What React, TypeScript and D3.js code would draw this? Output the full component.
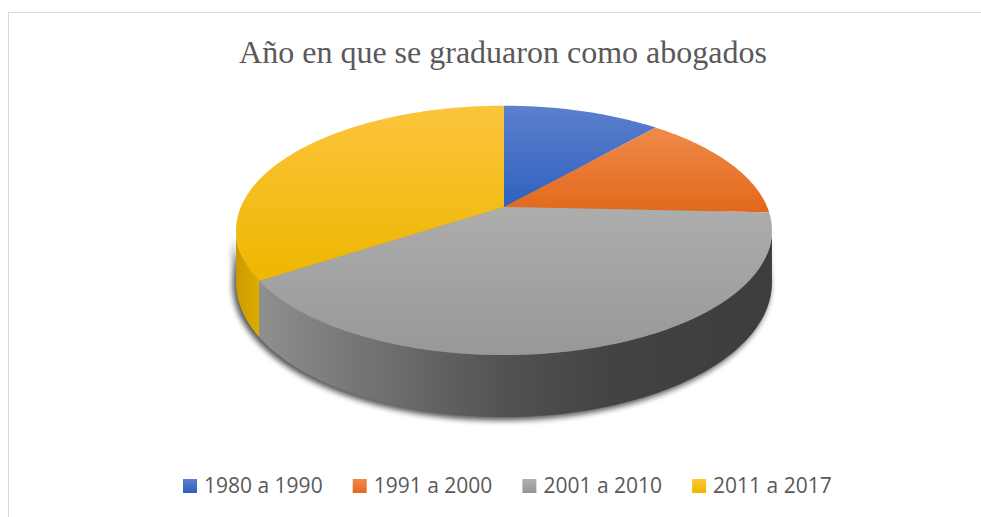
import React from "react";
import * as d3 from "d3";

const categories = ["1980 a 1990", "1991 a 2000", "2001 a 2010", "2011 a 2017"];
const values = [4, 5, 14, 12];
const topColors = [
  ["#5b80cd", "#3061bf"],
  ["#ef8a4c", "#e3681a"],
  ["#adadad", "#989898"],
  ["#fcc43c", "#eeb700"],
];
const legendColors = [
  ["#5a7fcc", "#2f5fbf"],
  ["#f0894a", "#e36a1b"],
  ["#b0b0b0", "#959595"],
  ["#ffc833", "#efb500"],
];
const title = "Año en que se graduaron como abogados";

const W = 981;
const H = 517;
const CX = 504;
const CY = 207;
const C = 0.1873;
const A = 263.2;
const B = 120.3;
const DEPTH = 50.4;

function proj(theta: number, h: number): [number, number] {
  const u = Math.sin(theta);
  const v = -Math.cos(theta);
  const w = 1 - C * v;
  return [CX + (A * u) / w, CY + (B * v + DEPTH * h) / w];
}

function rim(a0: number, a1: number, h: number): [number, number][] {
  const n = Math.max(2, Math.ceil(((a1 - a0) * 180) / Math.PI));
  const pts: [number, number][] = [];
  for (let i = 0; i <= n; i++) pts.push(proj(a0 + ((a1 - a0) * i) / n, h));
  return pts;
}

const line = d3.line<[number, number]>();

export default function App() {
  const pie = d3.pie<number>().sort(null).startAngle(0).endAngle(2 * Math.PI);
  const arcs = pie(values);
  const visStart = Math.PI / 2 + Math.asin(C);
  const visEnd = (3 * Math.PI) / 2 - Math.asin(C);

  const topPaths = arcs.map((a) => {
    const pts: [number, number][] = [[CX, CY], ...rim(a.startAngle, a.endAngle, 0)];
    return line(pts) + "Z";
  });

  const sidePaths = arcs.map((a) => {
    const s = Math.max(a.startAngle, visStart);
    const e = Math.min(a.endAngle, visEnd);
    if (e <= s) return null;
    const pts = [...rim(s, e, 0), ...rim(s, e, 1).reverse()];
    return line(pts) + "Z";
  });

  const shadowPath = line(rim(0, 2 * Math.PI, 1)) + "Z";
  const shadowSide = line([...rim(visStart, visEnd, 0), ...rim(visStart, visEnd, 1).reverse()]) + "Z";

  const legendX = d3.scaleLinear().domain([0, 1]).range([183, 352.7]);

  return (
    <svg width={W} height={H} style={{ position: "fixed", left: 0, top: 0 }}>
      <defs>
        {topColors.map((c, i) => (
          <linearGradient key={i} id={`top${i}`} x1="0" y1="0" x2="0" y2="1">
            <stop offset="0" stopColor={c[0]} />
            <stop offset="1" stopColor={c[1]} />
          </linearGradient>
        ))}
        {legendColors.map((c, i) => (
          <linearGradient key={i} id={`leg${i}`} x1="0" y1="0" x2="0" y2="1">
            <stop offset="0" stopColor={c[0]} />
            <stop offset="1" stopColor={c[1]} />
          </linearGradient>
        ))}
        <linearGradient id="sideGray" gradientUnits="userSpaceOnUse" x1="236" y1="0" x2="772" y2="0">
          <stop offset="0" stopColor="#9a9a9a" />
          <stop offset="0.05" stopColor="#8e8e8e" />
          <stop offset="0.3" stopColor="#6c6c6c" />
          <stop offset="0.5" stopColor="#525252" />
          <stop offset="0.7" stopColor="#434343" />
          <stop offset="1" stopColor="#3d3d3d" />
        </linearGradient>
        <linearGradient id="sideYellow" gradientUnits="userSpaceOnUse" x1="236" y1="0" x2="262" y2="0">
          <stop offset="0" stopColor="#c99b00" />
          <stop offset="1" stopColor="#e3ae00" />
        </linearGradient>
        <filter id="blur" x="-20%" y="-20%" width="140%" height="140%">
          <feGaussianBlur stdDeviation="3" />
        </filter>
      </defs>
      <rect x={8.5} y={12.5} width={990} height={520} fill="#fff" stroke="#d9d9d9" strokeWidth={1} />
      <text
        x={503}
        y={63}
        textAnchor="middle"
        fontFamily="'Liberation Serif', 'Times New Roman', serif"
        fontSize={32}
        fill="#595959"
      >
        {title}
      </text>
      <g>
        <path d={shadowPath} transform="translate(-2,3)" fill="#000" opacity={0.45} filter="url(#blur)" />
        <path d={shadowSide} transform="translate(-3,2)" fill="#000" opacity={0.45} filter="url(#blur)" />
        {sidePaths.map((d, i) =>
          d ? (
            <path key={i} d={d} fill={i === 3 ? "url(#sideYellow)" : i === 2 ? "url(#sideGray)" : topColors[i][1]} />
          ) : null
        )}
        {topPaths.map((d, i) => (
          <path key={i} d={d} fill={`url(#top${i})`} />
        ))}
      </g>
      <g>
        {categories.map((c, i) => (
          <g key={c} transform={`translate(${legendX(i)},479)`}>
            <rect x={0} y={0} width={14} height={14} fill={`url(#leg${i})`} />
            <text
              x={21}
              y={14}
              fontFamily="'Open Sans', 'Liberation Sans', sans-serif"
              fontSize={21}
              fill="#595959"
            >
              {c}
            </text>
          </g>
        ))}
      </g>
    </svg>
  );
}
